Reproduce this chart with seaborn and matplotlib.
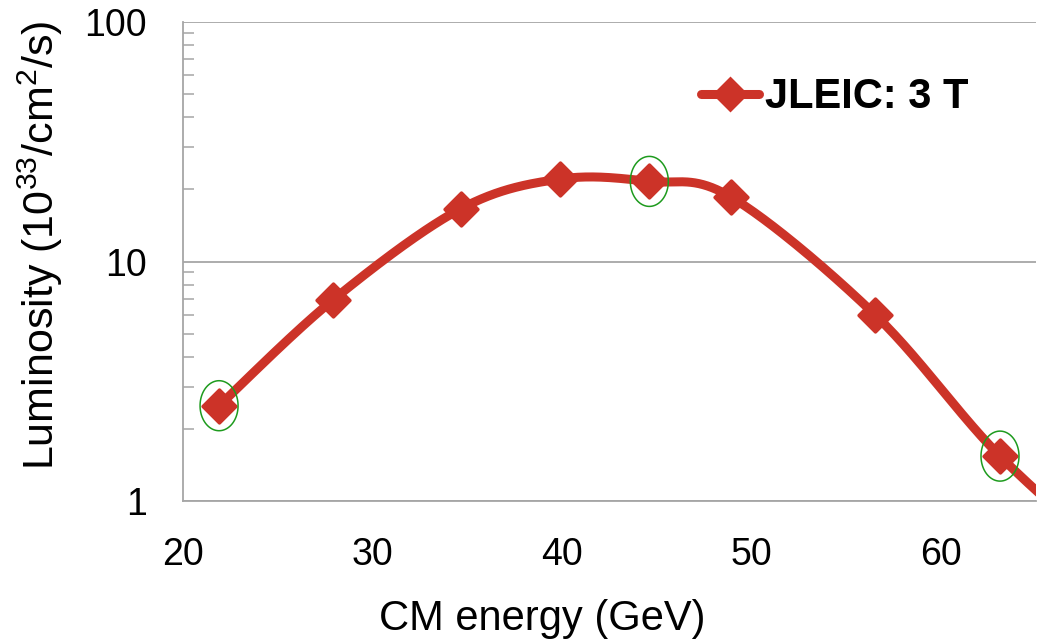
import numpy as np
import pandas as pd
import matplotlib
matplotlib.use("Agg")
import matplotlib.pyplot as plt
import seaborn as sns
from matplotlib.path import Path
from matplotlib.lines import Line2D
from matplotlib.ticker import LogLocator, FixedLocator, NullFormatter

# Centre-of-mass energy (GeV) and peak luminosity (1e33 /cm^2/s)
energy = [21.9, 27.9, 34.65, 39.9, 44.6, 48.9, 56.5, 63.1, 70.0]
luminosity = [2.5, 6.9, 16.6, 22.1, 21.6, 18.6, 6.0, 1.54, 0.5]
# Operating points highlighted with a ring
highlight_energy = [21.9, 44.6, 63.1]
highlight_lumi = [2.5, 21.6, 1.54]

series_label = "JLEIC: 3 T"
x_ticks = [20, 30, 40, 50, 60]
y_ticks = [1, 10, 100]
y_ticklabels = ["1", "10", "100"]

RED = "#CC3328"
GREEN = "#1E9B1E"
GRID = "#A6A6A6"

sns.set_theme(style="white")
plt.rcParams["font.family"] = ["Liberation Sans", "DejaVu Sans"]
plt.rcParams["mathtext.default"] = "regular"
plt.rcParams["text.color"] = "black"
plt.rcParams["axes.labelcolor"] = "black"

fig = plt.figure(figsize=(10.43, 6.43), dpi=100)
ax = fig.add_axes([0.1755, 0.2208, 0.8178, 0.745])
ax.set_yscale("log")
ax.set_xlim(20, 65)
ax.set_ylim(1, 100)


def smooth_curve(xs, ys, ax, n=60):
    """Catmull-Rom style smoothing done in screen space (linear x, log y)."""
    w_px = ax.get_position().width * fig.get_figwidth() * fig.dpi
    h_px = ax.get_position().height * fig.get_figheight() * fig.dpi
    sx = w_px / (ax.get_xlim()[1] - ax.get_xlim()[0])
    sy = h_px / (np.log10(ax.get_ylim()[1]) - np.log10(ax.get_ylim()[0]))
    P = np.column_stack([np.asarray(xs) * sx, np.log10(ys) * sy])
    P = np.vstack([P[0], P, P[-1]])
    out = []
    t = np.linspace(0, 1, n)[:, None]
    for i in range(1, len(P) - 2):
        p0, p1, p2, p3 = P[i - 1], P[i], P[i + 1], P[i + 2]
        c1 = p1 + (p2 - p0) / 6.0
        c2 = p2 - (p3 - p1) / 6.0
        seg = ((1 - t) ** 3) * p1 + 3 * ((1 - t) ** 2) * t * c1 \
            + 3 * (1 - t) * t ** 2 * c2 + t ** 3 * p2
        out.append(seg if i == 1 else seg[1:])
    out = np.vstack(out)
    return out[:, 0] / sx, 10 ** (out[:, 1] / sy)


cx, cy = smooth_curve(energy, luminosity, ax)
curve = pd.DataFrame({"energy": cx, "lumi": cy})
sns.lineplot(data=curve, x="energy", y="lumi", sort=False, color=RED,
             linewidth=6.5, ax=ax, zorder=3, estimator=None,
             solid_capstyle="round")

points = pd.DataFrame({"energy": energy, "lumi": luminosity})
sns.scatterplot(data=points, x="energy", y="lumi", marker="D", s=280,
                color=RED, edgecolor=RED, linewidth=2.5, ax=ax, zorder=4)
for coll in ax.collections:
    coll.set_joinstyle("round")

# Thin green rings around the highlighted points
theta = np.linspace(0, 2 * np.pi, 100)
ring = Path(np.column_stack([0.38 * np.cos(theta), 0.5 * np.sin(theta)]))
rings = pd.DataFrame({"energy": highlight_energy, "lumi": highlight_lumi})
sns.scatterplot(data=rings, x="energy", y="lumi", marker=ring, s=36 ** 2,
                facecolor="none", edgecolor=GREEN, linewidth=1.1, ax=ax,
                zorder=5)

# Axes styling
ax.set_xlim(20, 65)
ax.set_ylim(1, 100)
ax.xaxis.set_major_locator(FixedLocator(x_ticks))
ax.yaxis.set_major_locator(FixedLocator(y_ticks))
ax.set_yticklabels(y_ticklabels)
ax.yaxis.set_minor_locator(LogLocator(base=10, subs=np.arange(2, 10)))
ax.yaxis.set_minor_formatter(NullFormatter())
ax.grid(axis="y", which="major", color=GRID, linewidth=1.3)
ax.grid(axis="x", visible=False)
for side in ["top", "right"]:
    ax.spines[side].set_visible(False)
for side in ["left", "bottom"]:
    ax.spines[side].set_color(GRID)
    ax.spines[side].set_linewidth(1.3)
ax.tick_params(axis="both", which="major", direction="out", length=8,
               width=1.1, color=GRID, labelcolor="black")
ax.tick_params(axis="y", which="major", labelsize=27, pad=18)
ax.tick_params(axis="x", which="major", labelsize=27, pad=18)
ax.tick_params(axis="y", which="minor", direction="in", length=8, width=1.1,
               color=GRID, left=True)
ax.tick_params(axis="x", which="minor", bottom=False)

ax.set_xlabel("CM energy (GeV)", fontsize=30)
ax.xaxis.set_label_coords(0.421, -0.205)
ax.set_ylabel("Luminosity (10$^{33}$/cm$^{2}$/s)", fontsize=31)
ax.yaxis.set_label_coords(-0.138, 0.534)

handle = Line2D([], [], color=RED, linewidth=6.5, marker="D", markersize=16,
                markeredgewidth=2, solid_capstyle="round")
leg = ax.legend([handle], [series_label], loc="center left",
                bbox_to_anchor=(0.607, 0.843), frameon=False, borderpad=0,
                borderaxespad=0, handlelength=1.4, handletextpad=0.15,
                prop={"size": 30, "weight": "bold"})

fig.savefig("out.png", dpi=100, facecolor="white")
